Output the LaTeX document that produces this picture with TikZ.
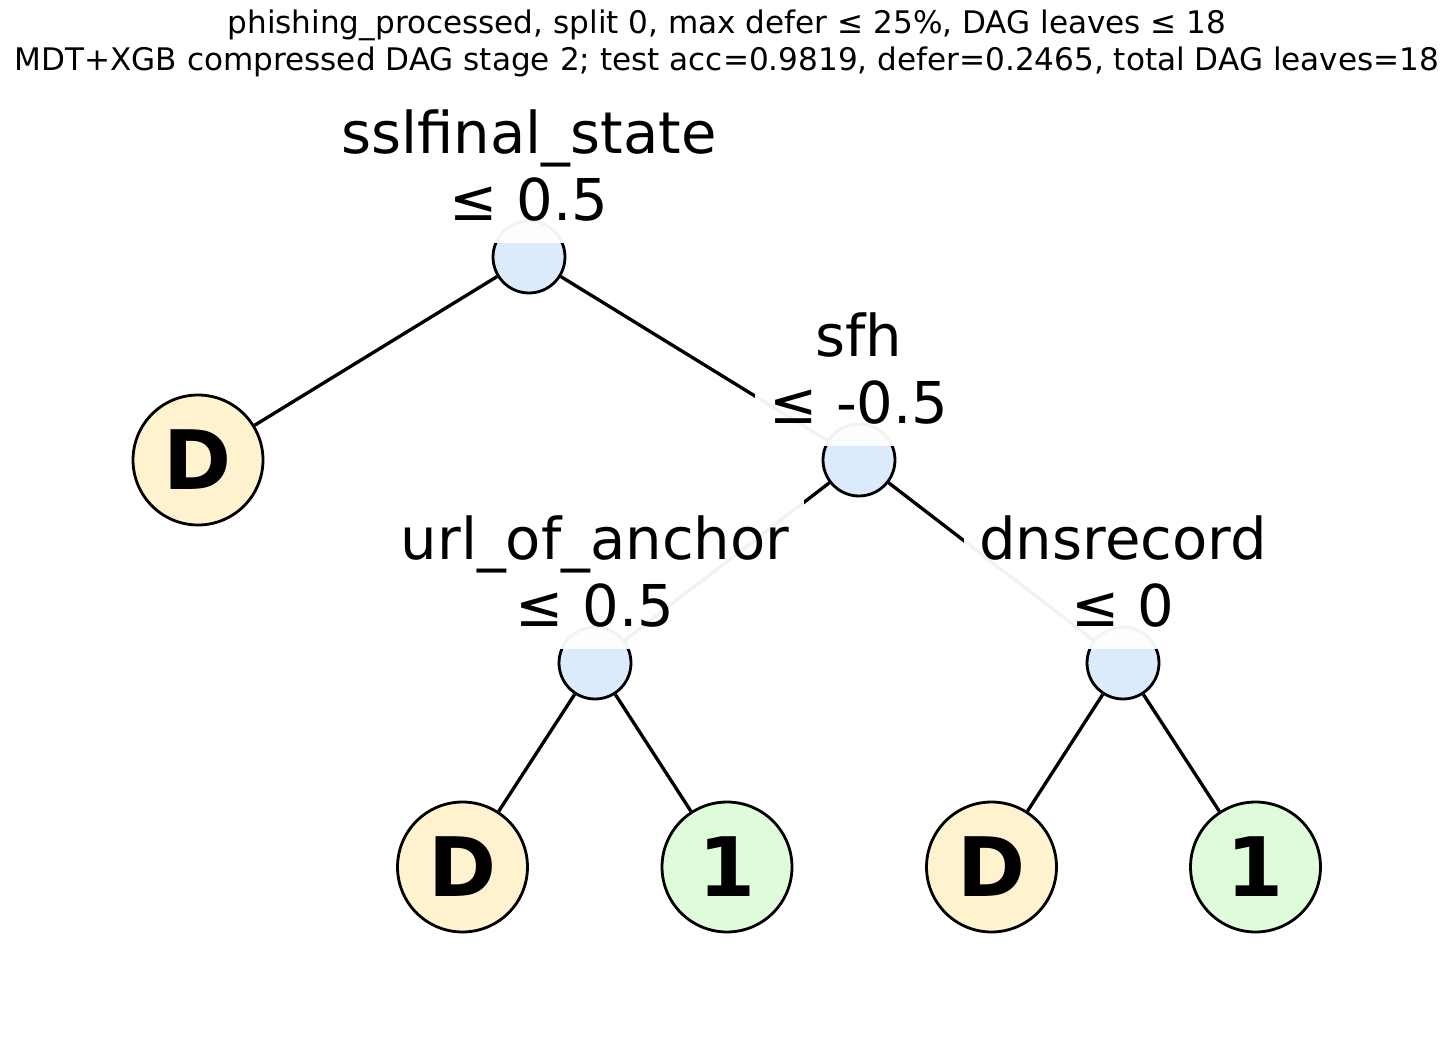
\documentclass[tikz,border=0pt]{standalone}
\usepackage{fontspec}
\setmainfont{DejaVu Sans}
\usetikzlibrary{positioning}
\definecolor{splitblue}{RGB}{220,235,251}
\definecolor{deferyel}{RGB}{255,242,207}
\definecolor{leafgreen}{RGB}{222,251,218}

\begin{document}
\begin{tikzpicture}[
  x=0.02cm, y=-0.02cm, line width=1.9pt,
  split/.style={circle, draw, line width=1.6pt, fill=splitblue, minimum size=1.44cm, inner sep=0pt},
  leaf/.style={circle, draw, line width=1.6pt, minimum size=2.6cm, inner sep=0pt,
    font=\fontsize{46.7}{50}\selectfont\bfseries},
  defer/.style={leaf, fill=deferyel},
  onebox/.style={leaf, fill=leafgreen},
  cond/.style={anchor=south, fill=white, fill opacity=0.95, text opacity=1, align=center,
    inner xsep=8.5pt, inner ysep=13pt, text depth=0pt, font=\fontsize{32.8}{38}\selectfont}
]
  \useasboundingbox (0,0) rectangle (1454,1044);

  % titre, puis les noeuds de l'arbre
  \node[anchor=south, align=center, inner sep=0pt, text depth=0pt,
    font=\fontsize{17.7}{21.2}\selectfont] (title) at (727,72)
    {phishing\_processed, split 0, max defer ≤ 25\%, DAG leaves ≤ 18\\
     MDT+XGB compressed DAG stage 2; test acc=0.9819, defer=0.2465, total DAG leaves=18};

  \node[split] (ssl) at (529,257) {};
  \node[split] (sfh) at (859,460) {};
  \node[split] (url) at (595,663) {};
  \node[split] (dns) at (1123,663) {};

  \node[defer]  (d0) at (198,460) {D};
  \node[defer]  (d1) at (462.5,867) {D};
  \node[onebox] (p1) at (727,867) {1};
  \node[defer]  (d2) at (991.5,867) {D};
  \node[onebox] (p2) at (1255.5,867) {1};

  \draw (ssl) -- (d0);
  \draw (ssl) -- (sfh);
  \draw (sfh) -- (url);
  \draw (sfh) -- (dns);
  \draw (url) -- (d1);
  \draw (url) -- (p1);
  \draw (dns) -- (d2);
  \draw (dns) -- (p2);

  \node[cond] (sslc) at (529,245) {sslfinal\_state\\≤ 0.5};
  \node[cond] (sfhc) at (859,448) {sfh\\≤ -0.5};
  \node[cond] (urlc) at (595,651) {url\_of\_anchor\\≤ 0.5};
  \node[cond] (dnsc) at (1123,651) {dnsrecord\\≤ 0};
\end{tikzpicture}
\end{document}
